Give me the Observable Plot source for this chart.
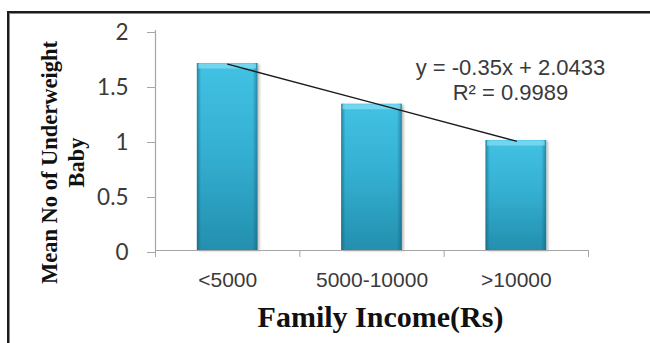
<!DOCTYPE html>
<html>
<head>
<meta charset="utf-8">
<script src="https://cdn.jsdelivr.net/npm/d3@7"></script>
<script src="https://cdn.jsdelivr.net/npm/@observablehq/plot@0.6"></script>
<style>
  html, body { margin: 0; padding: 0; background: #fff; }
  #wrap { position: relative; width: 650px; height: 343px; overflow: hidden; background: #fff; }
  #wrap svg { position: absolute; left: 0; top: 0; }
  #border {
    position: absolute; left: 7px; top: 11px; width: 720px; height: 420px;
    border: 2px solid #1c1c1c; box-shadow: inset 1px 1px 0 #8a8a8a;
    pointer-events: none;
  }
</style>
</head>
<body>
<div id="wrap"><div id="border"></div></div>
<script>
// Income groups and the mean number of underweight babies in each
const categories = ["<5000", "5000-10000", ">10000"];
const meanUnderweight = [1.70, 1.33, 1.00];
const yTicks = [0, 0.5, 1, 1.5, 2];

// Linear trendline fitted over the category index (1, 2, 3)
const trendSlope = -0.35;
const trendIntercept = 2.0433;
const rSquared = 0.9989;

const positions = categories.map((c, i) => i + 1);
const bars = categories.map((c, i) => ({category: c, pos: positions[i], value: meanUnderweight[i]}));
const boundaries = d3.range(0.5, categories.length + 1, 1);
const trend = positions.map(p => ({pos: p, value: trendSlope * p + trendIntercept}));

const halfBar = 0.21;
const axisGrey = "#a6a6a6";
const textGrey = "#3a3a3a";

const chart = Plot.plot({
  width: 650,
  height: 343,
  marginLeft: 155,
  marginRight: 62,
  marginTop: 30,
  marginBottom: 93,
  style: {background: "transparent", overflow: "visible"},
  x: {domain: [0.5, categories.length + 0.5], axis: null},
  y: {domain: [0, 2], axis: null},
  marks: [
    Plot.rectY(bars, {x1: d => d.pos - halfBar, x2: d => d.pos + halfBar, y: "value", fill: "url(#barFill)"}),
    Plot.rectY(bars, {x1: d => d.pos - halfBar, x2: d => d.pos + halfBar, y: "value", fill: "url(#barEdges)"}),
    Plot.ruleY(bars, {x1: d => d.pos - halfBar + 0.01, x2: d => d.pos + halfBar - 0.01, y: "value", dy: 2.5, stroke: "#86dcf2", strokeWidth: 5, strokeOpacity: 0.75}),
    Plot.ruleY([0], {stroke: axisGrey, strokeWidth: 1.2}),
    Plot.ruleX([0.5], {stroke: axisGrey, strokeWidth: 1.2}),
    Plot.axisY({ticks: yTicks, tickSize: 8, tickPadding: 19, stroke: axisGrey, fill: textGrey, label: null,
      fontSize: 22.5, fontFamily: "Lato, 'Open Sans', sans-serif", dy: 2, tickFormat: d => String(d)}),
    Plot.axisX({ticks: boundaries, tickSize: 7, stroke: axisGrey, label: null, tickFormat: () => ""}),
    Plot.axisX({ticks: positions, tickSize: 0, tickPadding: 22, fill: textGrey, label: null,
      fontSize: 21, fontFamily: "'Liberation Sans', Arial, sans-serif", tickFormat: p => categories[p - 1]}),
    Plot.line(trend, {x: "pos", y: "value", stroke: "#1a1a1a", strokeWidth: 1.3}),
    Plot.text([`y = ${trendSlope}x + ${trendIntercept}\nR² = ${rSquared}`], {
      frameAnchor: "top-right", dx: -78, dy: 26.4, lineAnchor: "top", textAnchor: "middle",
      lineHeight: 1.14, fontSize: 22, fill: textGrey, fontFamily: "'Liberation Sans', Arial, sans-serif"}),
    Plot.text(["Family Income(Rs)"], {
      frameAnchor: "bottom", dx: 8.5, dy: 66.5, lineAnchor: "middle", textAnchor: "middle",
      fontSize: 30, fontWeight: "bold", fill: "#111", fontFamily: "'Liberation Serif', 'Times New Roman', serif"}),
    Plot.text(["Mean No of Underweight\nBaby"], {
      frameAnchor: "left", rotate: -90, dx: -94, dy: 22, lineAnchor: "middle", textAnchor: "middle",
      lineHeight: 1.23, fontSize: 22.5, fontWeight: "bold", fill: "#111", fontFamily: "'Liberation Serif', 'Times New Roman', serif"})
  ]
});

// Gradients and a soft shadow for the bars
const defs = d3.select(chart).insert("defs", ":first-child");
const fill = defs.append("linearGradient").attr("id", "barFill").attr("x1", 0).attr("y1", 0).attr("x2", 0).attr("y2", 1);
fill.append("stop").attr("offset", 0).attr("stop-color", "#42c2e4");
fill.append("stop").attr("offset", 0.5).attr("stop-color", "#33aed0");
fill.append("stop").attr("offset", 1).attr("stop-color", "#248fae");
const edges = defs.append("linearGradient").attr("id", "barEdges").attr("x1", 0).attr("y1", 0).attr("x2", 1).attr("y2", 0);
[[0, 0.6], [0.07, 0], [0.92, 0], [1, 0.55]].forEach(([o, a]) =>
  edges.append("stop").attr("offset", o).attr("stop-color", "#145a6e").attr("stop-opacity", a));
const shadow = defs.append("filter").attr("id", "barShadow").attr("x", "-10%").attr("y", "-10%").attr("width", "130%").attr("height", "130%");
shadow.append("feDropShadow").attr("dx", 2).attr("dy", 1).attr("stdDeviation", 1.2).attr("flood-color", "#000").attr("flood-opacity", 0.25);
d3.select(chart).select('g[aria-label="rect"]').attr("filter", "url(#barShadow)");

document.getElementById("wrap").prepend(chart);
</script>
</body>
</html>
